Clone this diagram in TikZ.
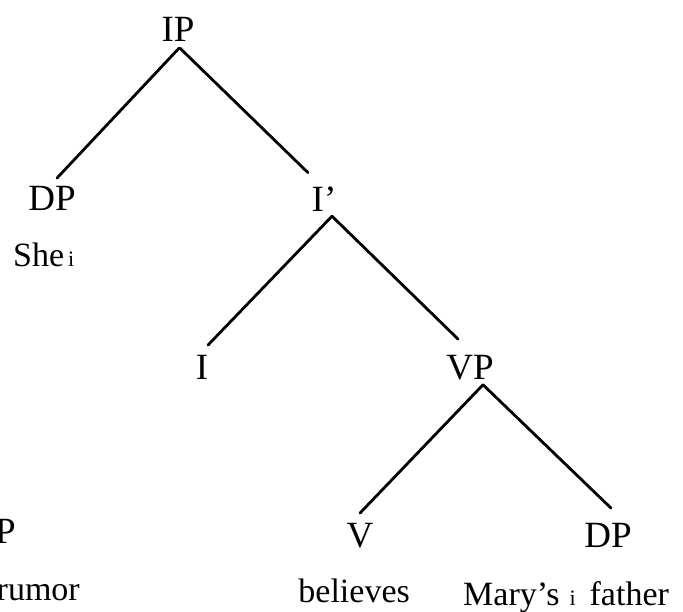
\documentclass[tikz,border=0pt]{standalone}
\usepackage{fontspec}
\setmainfont{Liberation Serif}
\usetikzlibrary{calc}
\newcommand{\idx}{{\fontsize{22}{22}\selectfont i}}
\tikzset{
  cat/.style={anchor=base, inner sep=0pt, font=\fontsize{37}{40}\selectfont},
  word/.style={inner sep=0pt, font=\fontsize{34}{38}\selectfont},
  branch/.style={line width=2.8pt, line cap=round}
}
\begin{document}
\begin{tikzpicture}[x=1pt,y=-1pt]
  \fill[white] (0,0) rectangle (683,612);
  \useasboundingbox (0,0) rectangle (683,612);

  % categories
  \node[cat] (ip)  at (178,42)  {IP};
  \node[cat] (dpa) at (52,211)  {DP};
  \node[cat] (ib)  at (324,212) {I’};
  \node[cat] (i)   at (202,380) {I};
  \node[cat] (vp)  at (470,380) {VP};
  \node[cat] (v)   at (360,547) {V};
  \node[cat] (dpb) at (608,547) {DP};
  \node[cat, anchor=base east] (dpc) at (16,543) {DP};

  % words
  \node[word, anchor=base west] (shei)   at (13,267)  {She\hspace{4pt}\idx};
  \node[word, anchor=base east] (rumor)  at (80,600)  {rumor};
  \node[word, anchor=base east] (belv)   at (410,602) {believes};
  \node[word, anchor=base west] (mary)   at (463,605) {Mary’s\hspace{10pt}\idx\hspace{14pt}father};

  % branches
  \draw[branch] ($(ip.south)+(1,6)$)  -- ($(dpa.north)+(5,-8.5)$);
  \draw[branch] ($(ip.south)+(2,6)$)  -- ($(ib.north)+(-16,-14.5)$);
  \draw[branch] ($(ib.south)+(8,4)$)  -- ($(i.north)+(6,-10.5)$);
  \draw[branch] ($(ib.south)+(8,4)$)  -- ($(vp.north)+(-12,-16.5)$);
  \draw[branch] ($(vp.south)+(13,4)$) -- ($(v.north)+(0,-9.5)$);
  \draw[branch] ($(vp.south)+(13,4)$) -- ($(dpb.north)+(3,-14.5)$);
\end{tikzpicture}
\end{document}
